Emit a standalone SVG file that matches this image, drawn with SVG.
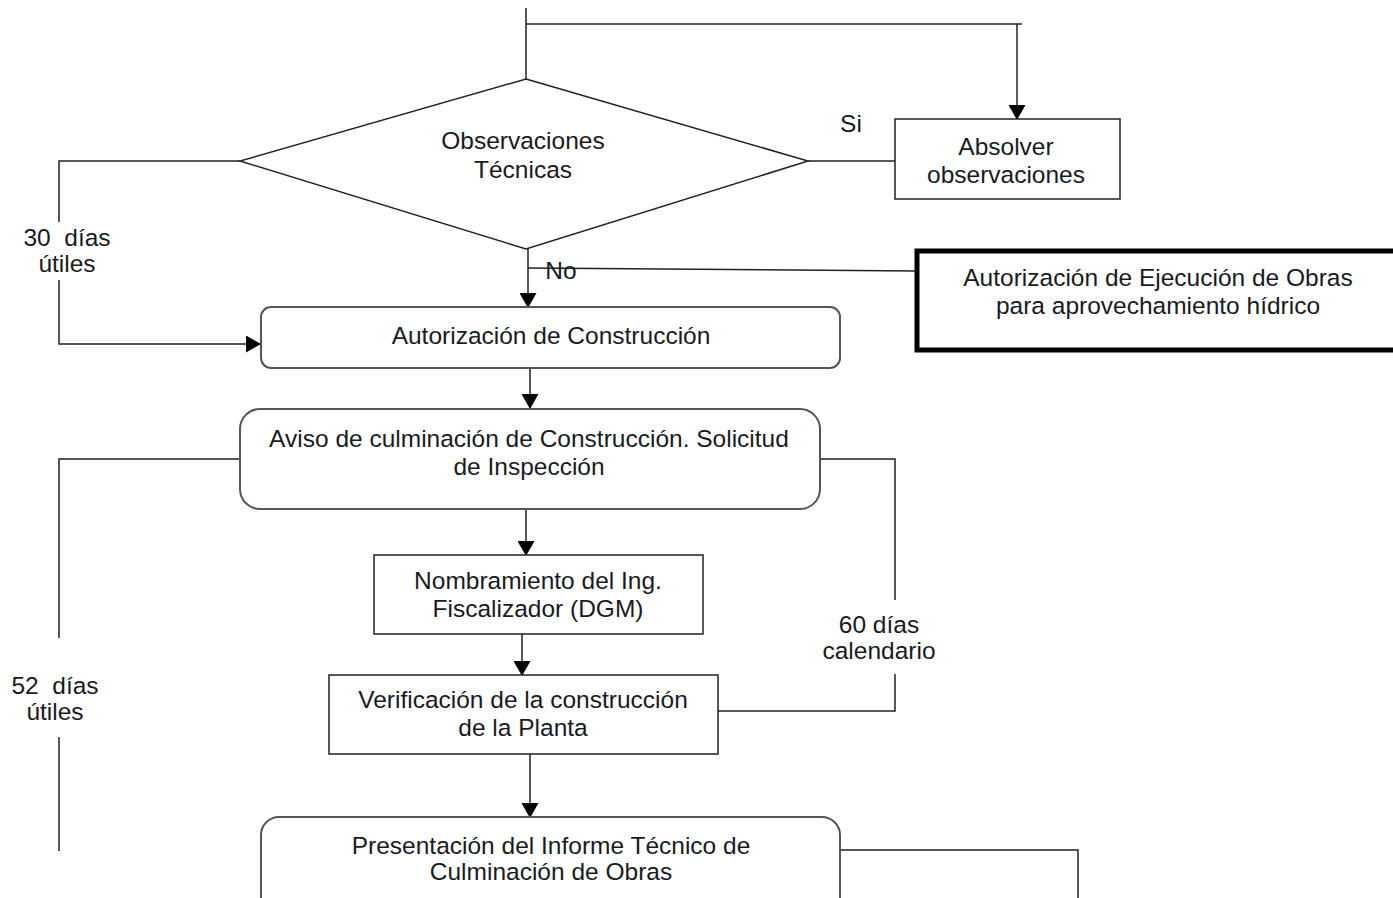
<svg xmlns="http://www.w3.org/2000/svg" width="1393" height="898" viewBox="0 0 1393 898">
<defs>
<marker id="arr" markerWidth="15" markerHeight="17" refX="14" refY="8.5" orient="auto" markerUnits="userSpaceOnUse">
<path d="M0,0 L15,8.5 L0,17 Z" fill="#000"/>
</marker>
</defs>
<style>
.t{font-family:"Liberation Sans",Arial,sans-serif;font-size:24.5px;fill:#1a1a22;text-anchor:middle;white-space:pre}
.n{fill:#fff;stroke:#222;stroke-width:1.5}
.r{fill:#fff;stroke:#555;stroke-width:2}
.c{fill:none;stroke:#222;stroke-width:1.5}
.a{fill:none;stroke:#222;stroke-width:1.5;marker-end:url(#arr)}
</style>
<rect width="1393" height="898" fill="#fff"/>
<g id="connectors">
<polyline class="c" points="526,8 526,79"/>
<polyline class="c" points="526,24 1022,24"/>
<polyline class="a" points="1017,24 1017,119"/>
<polyline class="c" points="808,161 895,161"/>
<polyline class="c" points="240,161 59,161 59,222"/>
<polyline class="a" points="59,280 59,344 260,344"/>
<polyline class="a" points="528,249 528,307"/>
<line class="c" x1="528" y1="268" x2="916" y2="271"/>
<polyline class="a" points="530,368 530,408"/>
<polyline class="c" points="240,459 59,459 59,638"/>
<polyline class="c" points="59,737 59,851"/>
<polyline class="c" points="820,459 895,459 895,600"/>
<polyline class="c" points="895,674 895,711 718,711"/>
<polyline class="a" points="526,509 526,555"/>
<polyline class="a" points="522,634 522,675"/>
<polyline class="a" points="530,754 530,817"/>
<polyline class="c" points="840,850 1078,850 1078,898"/>
</g>
<g id="lbl-si"><text class="t" x="851" y="132">Si</text></g>
<g id="lbl-no"><text class="t" x="561" y="279">No</text></g>
<g id="lbl-30"><text class="t" x="67" y="246" xml:space="preserve">30  días</text><text class="t" x="67" y="272">útiles</text></g>
<g id="lbl-52"><text class="t" x="55" y="694" xml:space="preserve">52  días</text><text class="t" x="55" y="720">útiles</text></g>
<g id="lbl-60"><text class="t" x="879" y="633">60 días</text><text class="t" x="879" y="659">calendario</text></g>
<g id="obs">
<polygon class="n" points="526,79 808,161 526,249 240,161"/>
<text class="t" x="523" y="149">Observaciones</text>
<text class="t" x="523" y="178">Técnicas</text>
</g>
<g id="absolver">
<rect class="n" x="895" y="119" width="225" height="80"/>
<text class="t" x="1006" y="155">Absolver</text>
<text class="t" x="1006" y="183">observaciones</text>
</g>
<g id="ejecucion">
<rect x="917" y="251" width="480" height="99" fill="#fff" stroke="#000" stroke-width="5"/>
<text class="t" x="1158" y="286">Autorización de Ejecución de Obras</text>
<text class="t" x="1158" y="314">para aprovechamiento hídrico</text>
</g>
<g id="construccion">
<rect class="r" x="261" y="307" width="579" height="61" rx="10"/>
<text class="t" x="551" y="344">Autorización de Construcción</text>
</g>
<g id="aviso">
<rect class="r" x="240" y="409" width="580" height="100" rx="20"/>
<text class="t" x="529" y="447">Aviso de culminación de Construcción. Solicitud</text>
<text class="t" x="529" y="475">de Inspección</text>
</g>
<g id="nombramiento">
<rect class="n" x="374" y="555" width="329" height="79"/>
<text class="t" x="538" y="589">Nombramiento del Ing.</text>
<text class="t" x="538" y="617">Fiscalizador (DGM)</text>
</g>
<g id="verificacion">
<rect class="n" x="329" y="675" width="389" height="79"/>
<text class="t" x="523" y="708">Verificación de la construcción</text>
<text class="t" x="523" y="736">de la Planta</text>
</g>
<g id="presentacion">
<rect class="r" x="261" y="817" width="579" height="100" rx="18"/>
<text class="t" x="551" y="854">Presentación del Informe Técnico de</text>
<text class="t" x="551" y="880">Culminación de Obras</text>
</g>
</svg>
